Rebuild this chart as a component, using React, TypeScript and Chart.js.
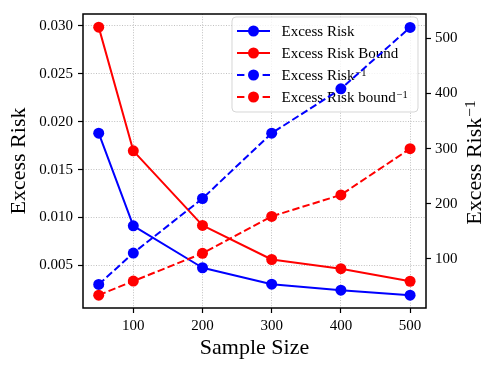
import React, { useEffect, useRef } from "react";
import { Chart, registerables } from "chart.js";

Chart.register(...registerables);

const sampleSizes = [50, 100, 200, 300, 400, 500];
const excessRisk = [0.0188, 0.00914, 0.00476, 0.00304, 0.00242, 0.0019];
const excessRiskBound = [0.02987, 0.01696, 0.00918, 0.00562, 0.00466, 0.00335];
const excessRiskInv = [53.5, 110.5, 209.5, 328, 408.5, 520];
const excessRiskBoundInv = [34, 59.5, 110, 177, 216, 300];

const xTicks = [100, 200, 300, 400, 500];
const leftTicks = [0.005, 0.01, 0.015, 0.02, 0.025, 0.03];
const rightTicks = [100, 200, 300, 400, 500];

const seriesLabels = [
  "Excess Risk",
  "Excess Risk Bound",
  "Excess Risk⁻¹",
  "Excess Risk bound⁻¹",
];
const xTitle = "Sample Size";
const leftTitle = "Excess Risk";
const rightTitle = "Excess Risk⁻¹";

const FONT = '"Liberation Serif", "Times New Roman", Times, serif';
const BLUE = "#0000ff";
const RED = "#ff0000";
const DASH = [7.4, 3.2];

function supWidth(ctx: CanvasRenderingContext2D, text: string, size: number) {
  const sup = text.endsWith("⁻¹");
  const base = sup ? text.slice(0, -2) : text;
  ctx.font = `${size}px ${FONT}`;
  let w = ctx.measureText(base).width;
  if (sup) {
    ctx.font = `${size * 0.7}px ${FONT}`;
    w += 1 + ctx.measureText("−1").width;
  }
  return w;
}

// draws text whose cap-height centre sits at y; "⁻¹" rendered as raised "−1"
function drawSupText(
  ctx: CanvasRenderingContext2D,
  text: string,
  x: number,
  y: number,
  size: number
) {
  const sup = text.endsWith("⁻¹");
  const base = sup ? text.slice(0, -2) : text;
  const baseline = y + 0.33 * size;
  ctx.textAlign = "left";
  ctx.textBaseline = "alphabetic";
  ctx.font = `${size}px ${FONT}`;
  ctx.fillText(base, x, baseline);
  if (sup) {
    const w = ctx.measureText(base).width;
    ctx.font = `${size * 0.7}px ${FONT}`;
    ctx.fillText("−1", x + w + 1, baseline - 0.29 * size);
  }
}

const customPlugin = {
  id: "custom",
  beforeDatasetsDraw(chart: any) {
    const ctx: CanvasRenderingContext2D = chart.ctx;
    // legend
    ctx.save();
    const bx = 232, by = 17, bw = 186, bh = 95, r = 4;
    ctx.beginPath();
    ctx.moveTo(bx + r, by);
    ctx.arcTo(bx + bw, by, bx + bw, by + bh, r);
    ctx.arcTo(bx + bw, by + bh, bx, by + bh, r);
    ctx.arcTo(bx, by + bh, bx, by, r);
    ctx.arcTo(bx, by, bx + bw, by, r);
    ctx.closePath();
    ctx.fillStyle = "rgba(255,255,255,0.8)";
    ctx.fill();
    ctx.strokeStyle = "rgba(204,204,204,0.8)";
    ctx.lineWidth = 1;
    ctx.stroke();
    chart.data.datasets.forEach((ds: any, i: number) => {
      const y = 31 + 22 * i;
      ctx.strokeStyle = ds.borderColor;
      ctx.lineWidth = 2;
      ctx.setLineDash([]);
      ctx.beginPath();
      if (ds.borderDash && ds.borderDash.length) {
        ctx.moveTo(237, y);
        ctx.lineTo(244.4, y);
        ctx.moveTo(262.6, y);
        ctx.lineTo(270, y);
      } else {
        ctx.moveTo(237, y);
        ctx.lineTo(270, y);
      }
      ctx.stroke();
      ctx.fillStyle = ds.borderColor;
      ctx.beginPath();
      ctx.arc(253.5, y, 5.5, 0, Math.PI * 2);
      ctx.fill();
      ctx.fillStyle = "#000";
      drawSupText(ctx, ds.label, 281.5, y, 15);
    });
    ctx.restore();
  },
  afterDraw(chart: any) {
    const ctx: CanvasRenderingContext2D = chart.ctx;
    const a = chart.chartArea;
    ctx.save();
    ctx.setLineDash([]);
    ctx.strokeStyle = "#000";
    ctx.lineWidth = 1.5;
    ctx.strokeRect(a.left, a.top, a.right - a.left, a.bottom - a.top);
    // right axis title, reading bottom to top
    const size = 22;
    const w = supWidth(ctx, rightTitle, size);
    ctx.translate(474, (a.top + a.bottom) / 2 + 1.5);
    ctx.rotate(-Math.PI / 2);
    ctx.fillStyle = "#000";
    drawSupText(ctx, rightTitle, -w / 2, 0, size);
    ctx.restore();
  },
};

export default function App() {
  const ref = useRef<HTMLCanvasElement>(null);

  useEffect(() => {
    const mk = (xs: number[], ys: number[]) => xs.map((x, i) => ({ x, y: ys[i] }));
    const base = {
      borderWidth: 2,
      pointRadius: 5.5,
      pointBorderWidth: 0,
      pointHoverRadius: 5.5,
      tension: 0,
      borderJoinStyle: "round" as const,
      fill: false,
    };
    const tickFont = { family: FONT, size: 15 };
    const chart = new Chart(ref.current as HTMLCanvasElement, {
      type: "line",
      data: {
        datasets: [
          { ...base, label: seriesLabels[0], data: mk(sampleSizes, excessRisk), borderColor: BLUE, backgroundColor: BLUE, pointBackgroundColor: BLUE, yAxisID: "y", order: 3 },
          { ...base, label: seriesLabels[1], data: mk(sampleSizes, excessRiskBound), borderColor: RED, backgroundColor: RED, pointBackgroundColor: RED, yAxisID: "y", order: 2 },
          { ...base, label: seriesLabels[2], data: mk(sampleSizes, excessRiskInv), borderColor: BLUE, backgroundColor: BLUE, pointBackgroundColor: BLUE, borderDash: DASH, yAxisID: "y1", order: 1 },
          { ...base, label: seriesLabels[3], data: mk(sampleSizes, excessRiskBoundInv), borderColor: RED, backgroundColor: RED, pointBackgroundColor: RED, borderDash: DASH, yAxisID: "y1", order: 0 },
        ],
      },
      options: {
        responsive: false,
        animation: false,
        devicePixelRatio: 1,
        layout: { padding: { top: 11, left: 0, right: 0, bottom: 0 } },
        plugins: { legend: { display: false }, tooltip: { enabled: false } },
        scales: {
          x: {
            type: "linear",
            position: "bottom",
            min: 27.3,
            max: 523,
            afterBuildTicks: (s: any) => { s.ticks = xTicks.map((v) => ({ value: v })); },
            afterFit: (s: any) => { s.height = 63; },
            ticks: { font: tickFont, color: "#000", padding: 4, maxRotation: 0, autoSkip: false, callback: (v: any) => String(v) },
            grid: { color: "#b0b0b0", lineWidth: 0.8, tickColor: "#000", tickWidth: 1.2, tickLength: 5 },
            border: { display: false, dash: [1, 1.6] },
            title: { display: true, text: xTitle, color: "#000", font: { family: FONT, size: 22 }, padding: { top: 0, bottom: 9.5 } },
          },
          y: {
            type: "linear",
            position: "left",
            min: 0.00056,
            max: 0.03124,
            afterBuildTicks: (s: any) => { s.ticks = leftTicks.map((v) => ({ value: v })); },
            afterFit: (s: any) => { s.width = 83; },
            ticks: { font: tickFont, color: "#000", padding: 5, autoSkip: false, callback: (v: any) => Number(v).toFixed(3) },
            grid: { color: "#b0b0b0", lineWidth: 0.8, tickColor: "#000", tickWidth: 1.2, tickLength: 5 },
            border: { display: false, dash: [1, 1.6] },
            title: { display: true, text: leftTitle, color: "#000", font: { family: FONT, size: 22 }, padding: { top: 6, bottom: 0 } },
          },
          y1: {
            type: "linear",
            position: "right",
            min: 10.7,
            max: 544.4,
            afterBuildTicks: (s: any) => { s.ticks = rightTicks.map((v) => ({ value: v })); },
            afterFit: (s: any) => { s.width = 72; },
            ticks: { font: tickFont, color: "#000", padding: 4, autoSkip: false, callback: (v: any) => String(v) },
            grid: { drawOnChartArea: false, tickColor: "#000", tickWidth: 1.2, tickLength: 5 },
            border: { display: false },
          },
        },
      },
      plugins: [customPlugin],
    } as any);
    return () => chart.destroy();
  }, []);

  return (
    <div style={{ position: "fixed", left: 0, top: 0, width: 498, height: 371, background: "#fff" }}>
      <canvas ref={ref} width={498} height={371} style={{ display: "block", width: 498, height: 371 }} />
    </div>
  );
}
